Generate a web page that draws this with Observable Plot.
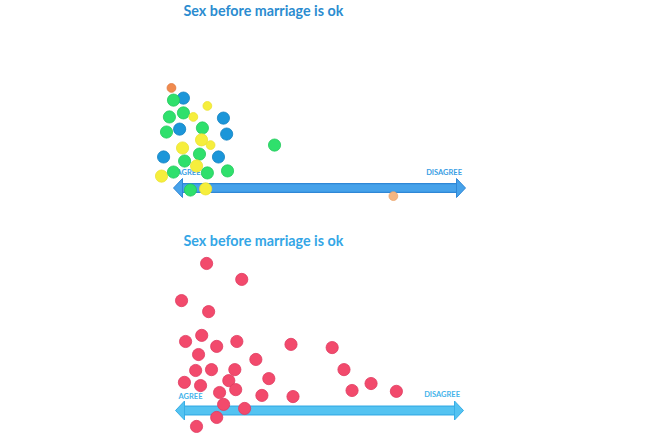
<!DOCTYPE html>
<html>
<head>
<meta charset="utf-8">
<script src="https://cdn.jsdelivr.net/npm/d3@7"></script>
<script src="https://cdn.jsdelivr.net/npm/@observablehq/plot@0.6"></script>
<style>
  html, body { margin: 0; padding: 0; background: #ffffff; }
  #chart { width: 650px; height: 433px; overflow: hidden; }
  #chart svg { display: block; }
</style>
</head>
<body>
<div id="chart"></div>
<script>
// ---- Data ----
const title = "Sex before marriage is ok";
const axisLabels = ["AGREE", "DISAGREE"];

// Poster 1: coloured stickers. agree = position along the AGREE(0) -> DISAGREE(100) arrow,
// height = how far above the arrow the sticker was placed.
const topAgree   = [-0.7, 3.4, 0.0, 11.6, 3.4, -1.4, 6.8, 17.1, 2.1, -2.4, 9.9, 18.2, 9.6, 12.7, 34.6, 3.1, -3.4, 8.9, 15.4, 3.8, 7.9, -4.1, 0.0, 11.6, 18.5, 5.8, 11.0, 75.3];
const topHeight  = [34.5, 31.0, 30.3, 28.3, 25.9, 24.5, 24.5, 24.1, 20.3, 19.3, 20.7, 18.6, 16.6, 14.8, 14.8, 13.8, 10.7, 11.7, 10.7, 9.3, 7.6, 4.1, 5.5, 5.2, 5.9, -0.7, -0.3, -2.8];
const topSticker = ["orange", "blue", "green", "yellow", "green", "green", "yellow", "blue", "blue", "green", "green", "blue", "yellow", "yellow", "green", "yellow", "blue", "green", "blue", "green", "yellow", "yellow", "green", "green", "green", "green", "yellow", "peach"];
const topSize    = ["small", "large", "large", "small", "large", "large", "small", "large", "large", "large", "large", "large", "large", "small", "large", "large", "large", "large", "large", "large", "large", "large", "large", "large", "large", "large", "large", "small"];

// Poster 2: red stickers.
const bottomAgree  = [10.8, 23.0, 2.1, 11.5, 9.1, 3.5, 14.3, 21.3, 40.1, 54.4, 8.0, 27.9, 7.0, 12.5, 20.6, 32.4, 58.5, 3.1, 8.7, 18.5, 20.9, 15.3, 30.0, 40.8, 61.3, 67.9, 76.7, 16.7, 24.0, 14.3, 7.3];
const bottomHeight = [50.7, 45.2, 37.9, 34.1, 25.9, 23.8, 22.1, 23.8, 22.8, 21.7, 19.3, 17.6, 13.8, 14.1, 14.1, 11.0, 14.1, 9.7, 8.6, 10.3, 7.2, 6.2, 5.2, 4.8, 6.9, 9.3, 6.6, 2.1, 0.7, -2.4, -5.5];

const stickerColors = ["green", "blue", "yellow", "orange", "peach", "red"];
const stickerHex    = ["#2fe06c", "#1b96d9", "#f6ee3c", "#f08a4e", "#f5b681", "#f24a6c"];
const stickerEdge   = ["#22c95c", "#1282c2", "#ebe230", "#e0793f", "#eca66f", "#df3a5f"];

// ---- Tables ----
const topData = topAgree.map((a, i) => ({agree: a, height: topHeight[i], sticker: topSticker[i], size: topSize[i]}));
const bottomData = bottomAgree.map((a, i) => ({agree: a, height: bottomHeight[i], sticker: "red", size: "large"}));
const ends = [{agree: 0, dir: "left"}, {agree: 100, dir: "right"}];

// Block arrow-head symbol with the tip at the origin, pointing right.
const arrowHead = {
  draw(context, size) {
    const L = 9, H = 9.5;
    context.moveTo(0, 0);
    context.lineTo(-L, -H);
    context.lineTo(-L, H);
    context.closePath();
  }
};

function panel({data, height, xRange, yBase, titleY, titleColor, arrowColor, arrowEdge, labelColor, labelDy}) {
  const fill = d => stickerHex[stickerColors.indexOf(d.sticker)];
  const stroke = d => stickerEdge[stickerColors.indexOf(d.sticker)];
  const stickers = [];
  for (const d of data) {
    stickers.push(Plot.dot([d], {
      x: "agree", y: "height", fill, stroke, strokeWidth: 0.8,
      r: d.size === "small" ? 4.4 : 6.1
    }));
  }
  return Plot.plot({
    width: 650,
    height,
    margin: 0,
    style: {background: "transparent", overflow: "visible"},
    x: {domain: [0, 100], range: xRange, axis: null},
    y: {domain: [0, 60], range: [yBase, yBase - 174], axis: null},
    marks: [
      // title
      Plot.text([title], {
        frameAnchor: "top-left", dx: 183, dy: titleY, lineAnchor: "middle", textAnchor: "start",
        fill: titleColor, fontSize: 14.3, fontWeight: 700, fontFamily: "Lato"
      }),
      // arrow shaft
      Plot.ruleY([0], {x1: 2.5, x2: 97.5, stroke: arrowEdge, strokeWidth: 10}),
      Plot.ruleY([0], {x1: 2.5, x2: 97.5, stroke: arrowColor, strokeWidth: 7.5}),
      // arrow heads
      Plot.dot(ends, {
        x: "agree", y: () => 0, symbol: arrowHead, r: 5,
        rotate: d => d.dir === "left" ? 180 : 0,
        fill: arrowColor, stroke: arrowEdge, strokeWidth: 1
      }),
      // axis labels
      Plot.text([axisLabels[0]], {
        x: () => 0, y: () => 0, dx: 3, dy: labelDy[0], textAnchor: "start",
        fill: labelColor, fontSize: 7.5, fontWeight: 700, fontFamily: "Lato"
      }),
      Plot.text([axisLabels[1]], {
        x: () => 100, y: () => 0, dx: -3.5, dy: labelDy[1], textAnchor: "end",
        fill: labelColor, fontSize: 7.5, fontWeight: 700, fontFamily: "Lato"
      }),
      // stickers, in the order they overlap
      ...stickers
    ]
  });
}

const container = document.getElementById("chart");
const topPanel = panel({
  data: topData, height: 216, xRange: [173, 465], yBase: 187.5,
  titleY: 10.5, titleColor: "#2b8cd0", arrowColor: "#46a2ea", arrowEdge: "#2f87d6",
  labelColor: "#3a9ee4", labelDy: [-15.5, -15.5]
});
const bottomPanel = panel({
  data: bottomData, height: 217, xRange: [175, 463], yBase: 194,
  titleY: 25, titleColor: "#34a6e6", arrowColor: "#54c3f1", arrowEdge: "#38aee6",
  labelColor: "#45b3ea", labelDy: [-13.5, -16]
});
container.appendChild(topPanel);
container.appendChild(bottomPanel);
</script>
</body>
</html>
